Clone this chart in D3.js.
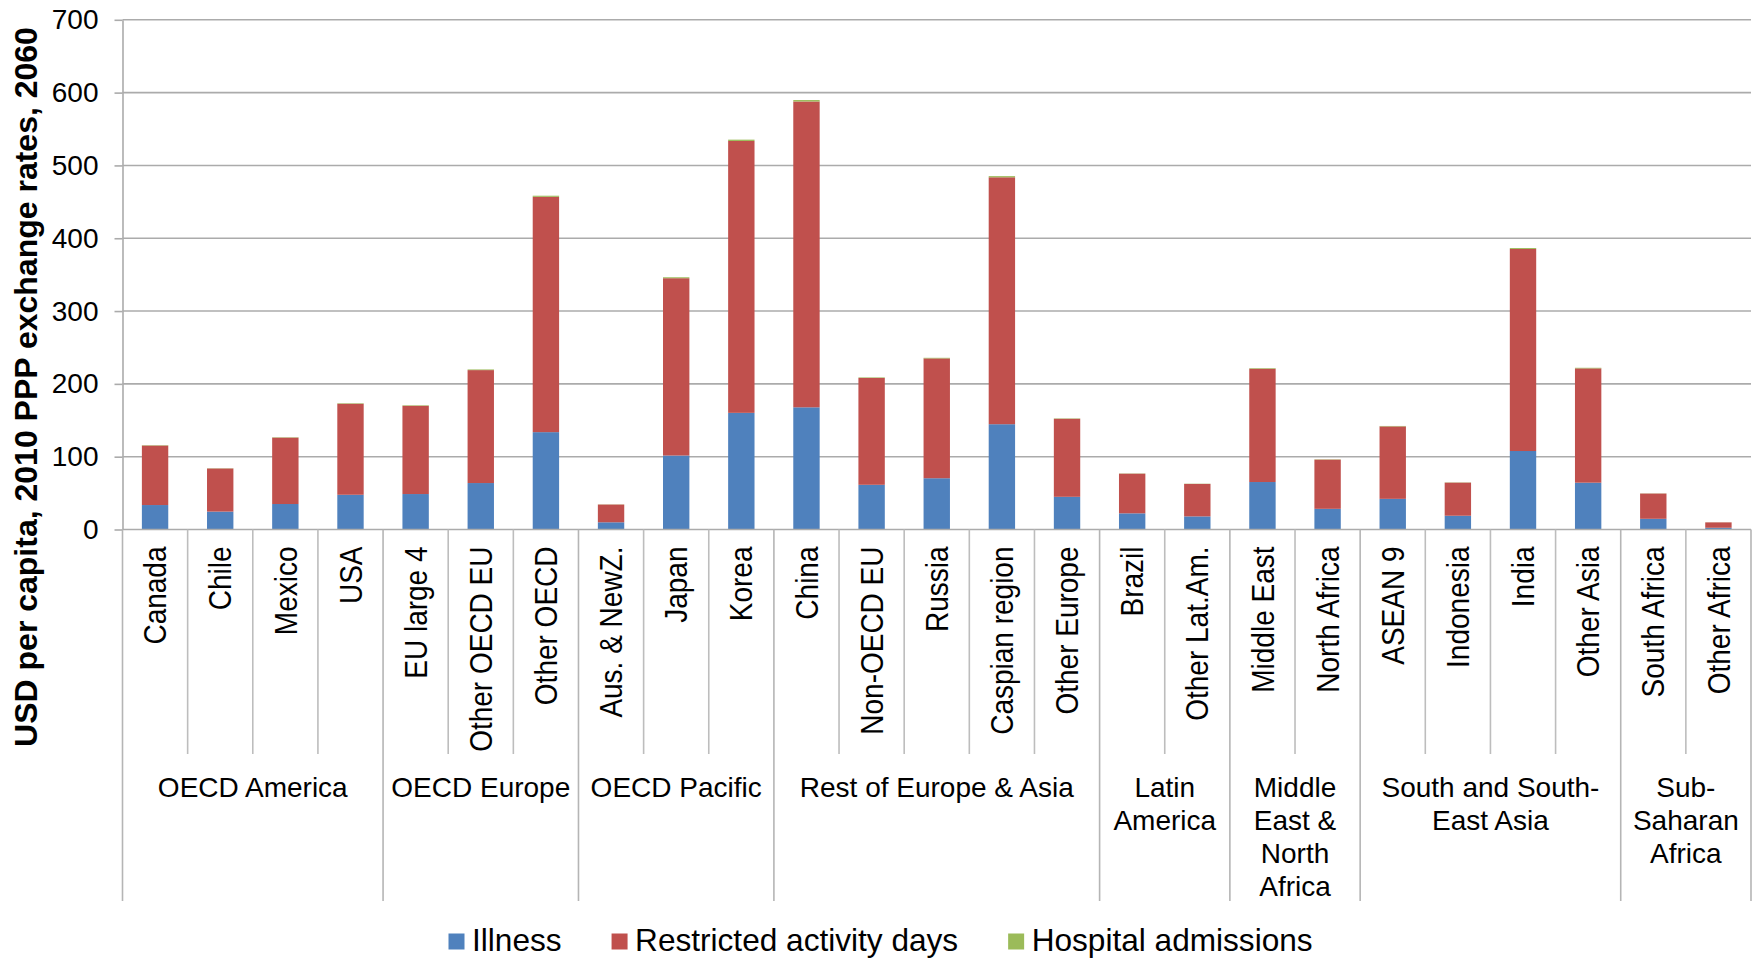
<!DOCTYPE html>
<html>
<head>
<meta charset="utf-8">
<script src="https://cdn.jsdelivr.net/npm/d3@7"></script>
<style>
  html, body { margin: 0; padding: 0; background: #fff; }
  svg { display: block; font-family: "Liberation Sans", Arial, Helvetica, sans-serif; }
</style>
</head>
<body>
<svg id="chart" width="1759" height="959"></svg>
<script>
// Health costs of air pollution by region, USD per capita (2010 PPP), 2060
const categories = [
  "Canada", "Chile", "Mexico", "USA",
  "EU large 4", "Other OECD EU", "Other OECD",
  "Aus. & NewZ.", "Japan", "Korea",
  "China", "Non-OECD EU", "Russia", "Caspian region", "Other Europe",
  "Brazil", "Other Lat.Am.",
  "Middle East", "North Africa",
  "ASEAN 9", "Indonesia", "India", "Other Asia",
  "South Africa", "Other Africa"
];
const illness = [33.6, 24.6, 35.0, 47.7, 48.7, 63.8, 133.7, 9.9, 101.6, 160.2,
  167.8, 61.4, 70.4, 144.6, 44.9, 22.2, 18.0, 65.2, 28.4, 42.1, 18.9, 107.8, 64.3, 14.7, 2.4];
const restrictedDays = [81.7, 59.2, 91.2, 125.0, 121.2, 155.1, 323.2, 24.4, 243.5, 373.4,
  420.0, 146.8, 164.6, 339.1, 107.2, 54.5, 44.6, 155.6, 67.6, 99.5, 45.5, 277.5, 157.0, 34.7, 7.4];
const hospitalAdmissions = [0.5, 0.3, 0.5, 0.7, 0.7, 0.9, 1.5, 0.2, 1.3, 1.8,
  2.0, 0.7, 0.8, 1.6, 0.5, 0.3, 0.3, 0.8, 0.4, 0.6, 0.3, 1.3, 0.8, 0.2, 0.1];

const groupLabels = [
  ["OECD America"], ["OECD Europe"], ["OECD Pacific"], ["Rest of Europe & Asia"],
  ["Latin", "America"], ["Middle", "East &", "North", "Africa"],
  ["South and South-", "East Asia"], ["Sub-", "Saharan", "Africa"]
];
const groupSizes = [4, 3, 3, 5, 2, 2, 4, 2];

const seriesNames = ["Illness", "Restricted activity days", "Hospital admissions"];
const seriesColors = ["#4F81BD", "#C0504D", "#9BBB59"];
const yTicks = [0, 100, 200, 300, 400, 500, 600, 700];

const svg = d3.select("#chart");
const left = 122.5, right = 1751, yBottom = 529.5, yTop = 19.8;

const rows = categories.map((c, i) => ({
  cat: c,
  "Illness": illness[i],
  "Restricted activity days": restrictedDays[i],
  "Hospital admissions": hospitalAdmissions[i]
}));

const x = d3.scaleBand().domain(categories).range([left, right])
  .paddingInner(0.595).paddingOuter(0.2975);
const y = d3.scaleLinear().domain([0, 700]).range([yBottom, yTop]);
const step = x.step();

// horizontal gridlines
svg.append("g").selectAll("line")
  .data(yTicks.filter(d => d > 0))
  .join("line")
  .attr("x1", left).attr("x2", right)
  .attr("y1", d => y(d)).attr("y2", d => y(d))
  .attr("stroke", "#ababab").attr("stroke-width", 1.6);

// stacked bars
const stack = d3.stack().keys(seriesNames)(rows);
svg.append("g").selectAll("g")
  .data(stack)
  .join("g")
  .attr("fill", (d, i) => seriesColors[i])
  .selectAll("rect")
  .data(d => d)
  .join("rect")
  .attr("x", d => x(d.data.cat))
  .attr("width", x.bandwidth())
  .attr("y", d => y(d[1]))
  .attr("height", d => Math.max(0, y(d[0]) - y(d[1])));

// y axis
const yAxis = svg.append("g")
  .attr("transform", `translate(${left},0)`)
  .call(d3.axisLeft(y).tickValues(yTicks).tickSizeInner(8).tickSizeOuter(0).tickPadding(16));
yAxis.select(".domain").attr("stroke", "#ababab").attr("stroke-width", 1.6);
yAxis.selectAll(".tick line").attr("stroke", "#ababab").attr("stroke-width", 1.6);
yAxis.selectAll(".tick text")
  .attr("font-size", 28).attr("fill", "#000")
  .attr("font-family", "'Liberation Sans', Arial, sans-serif");

// x axis baseline
svg.append("line")
  .attr("x1", left).attr("x2", right)
  .attr("y1", yBottom).attr("y2", yBottom)
  .attr("stroke", "#ababab").attr("stroke-width", 1.6);

// category separators: short inside a group, long at group boundaries
const groupStarts = new Set();
let acc = 0;
groupSizes.forEach(n => { groupStarts.add(acc); acc += n; });
groupStarts.add(categories.length);
const sepIdx = d3.range(categories.length + 1);
svg.append("g").selectAll("line")
  .data(sepIdx)
  .join("line")
  .attr("x1", i => i < categories.length ? x(categories[i]) - (step - x.bandwidth()) / 2 : right)
  .attr("x2", i => i < categories.length ? x(categories[i]) - (step - x.bandwidth()) / 2 : right)
  .attr("y1", yBottom)
  .attr("y2", i => groupStarts.has(i) ? 901 : 754)
  .attr("stroke", i => groupStarts.has(i) ? "#b5b5b5" : "#bdbdbd")
  .attr("stroke-width", 1.6);

// category labels (rotated)
svg.append("g").selectAll("text")
  .data(categories)
  .join("text")
  .attr("transform", d => `translate(${x(d) + x.bandwidth() / 2},546.5) rotate(-90) scale(1,1.14)`)
  .attr("text-anchor", "end")
  .attr("dominant-baseline", "central")
  .attr("font-size", 28)
  .attr("fill", "#000")
  .text(d => d);

// group labels
let start = 0;
const groupG = svg.append("g");
groupSizes.forEach((n, gi) => {
  const x0 = x(categories[start]) - (step - x.bandwidth()) / 2;
  const cx = x0 + n * step / 2;
  const t = groupG.append("text")
    .attr("text-anchor", "middle")
    .attr("font-size", 28)
    .attr("fill", "#000");
  groupLabels[gi].forEach((line, li) => {
    t.append("tspan").attr("x", cx).attr("y", 796.7 + li * 33).text(line);
  });
  start += n;
});

// y axis title
svg.append("text")
  .attr("transform", "translate(36.5,387) rotate(-90)")
  .attr("text-anchor", "middle")
  .attr("font-size", 32)
  .attr("font-weight", "bold")
  .attr("fill", "#000")
  .text("USD per capita, 2010 PPP exchange rates, 2060");

// legend
const legend = svg.append("g");
let lx = 448.5;
seriesNames.forEach((name, i) => {
  legend.append("rect")
    .attr("x", lx).attr("y", 933.5)
    .attr("width", 16).attr("height", 16)
    .attr("fill", seriesColors[i]);
  const txt = legend.append("text")
    .attr("x", lx + 23.5).attr("y", 950.5)
    .attr("font-size", 31.6)
    .attr("fill", "#000")
    .text(name);
  lx = lx + 23.5 + txt.node().getComputedTextLength() + 50;
});
</script>
</body>
</html>
